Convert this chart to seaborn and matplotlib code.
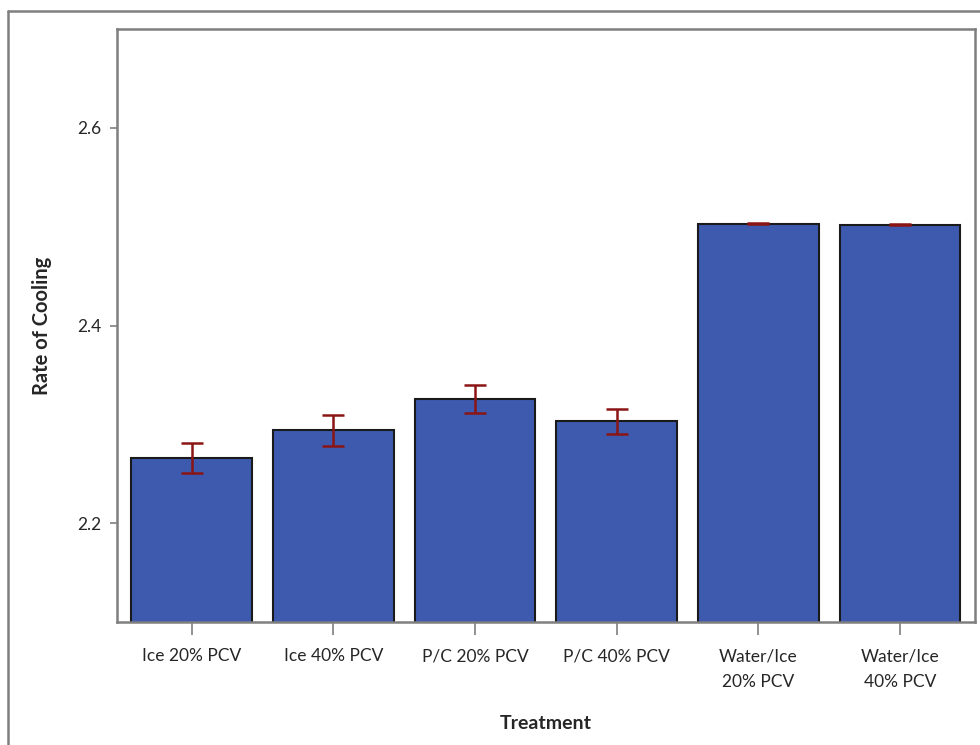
import numpy as np
import matplotlib
matplotlib.use('Agg')
import matplotlib.pyplot as plt
import seaborn as sns
from matplotlib.lines import Line2D

# data
treatments = ['Ice 20% PCV', 'Ice 40% PCV', 'P/C 20% PCV', 'P/C 40% PCV',
              'Water/Ice\n20% PCV', 'Water/Ice\n40% PCV']
rate = [2.266, 2.294, 2.326, 2.303, 2.503, 2.502]
err = [0.015, 0.016, 0.014, 0.013, 0.0005, 0.0005]

sns.set_style('white')
plt.rcParams['font.family'] = ['Lato', 'DejaVu Sans']

fig = plt.figure(figsize=(9.8, 7.45), dpi=100)
ax = fig.add_axes([0.119, 0.165, 0.876, 0.796])

sns.barplot(x=treatments, y=rate, color='#3D5AAE', saturation=1, width=0.85,
            edgecolor='#1a1a1a', linewidth=1.5, ax=ax)
ax.errorbar(np.arange(len(rate)), rate, yerr=err, fmt='none', ecolor='#8B1414',
            elinewidth=1.8, capsize=8, capthick=1.8)

ax.set_ylim(2.1, 2.7)
ax.set_xlim(-0.53, len(rate) - 0.47)
ax.set_yticks([2.2, 2.4, 2.6])
ax.set_yticklabels(['2.2', '2.4', '2.6'])
ax.tick_params(axis='y', direction='out', length=5, width=1.2, color='#7f7f7f',
               labelsize=12.5, pad=6)
ax.tick_params(axis='x', direction='out', length=9, width=1.2, color='#7f7f7f',
               labelsize=12.5, pad=10)
ax.tick_params(left=True, bottom=True)
for lab in ax.get_xticklabels():
    lab.set_linespacing(1.75)
    lab.set_verticalalignment('top')
for s in ax.spines.values():
    s.set_color('#7f7f7f')
    s.set_linewidth(1.8)

ax.set_xlabel('Treatment', fontsize=14, fontweight='bold', labelpad=18)
ax.set_ylabel('Rate of Cooling', fontsize=14.5, fontweight='bold', labelpad=18)

# outer frame (cut off on right and bottom)
fx = 8 / 980
fy = 1 - 11 / 745
fig.add_artist(Line2D([fx, fx], [0, fy], transform=fig.transFigure, color='#7f7f7f', lw=1.8))
fig.add_artist(Line2D([fx, 1], [fy, fy], transform=fig.transFigure, color='#7f7f7f', lw=1.8))

fig.savefig('out.png', dpi=100)
